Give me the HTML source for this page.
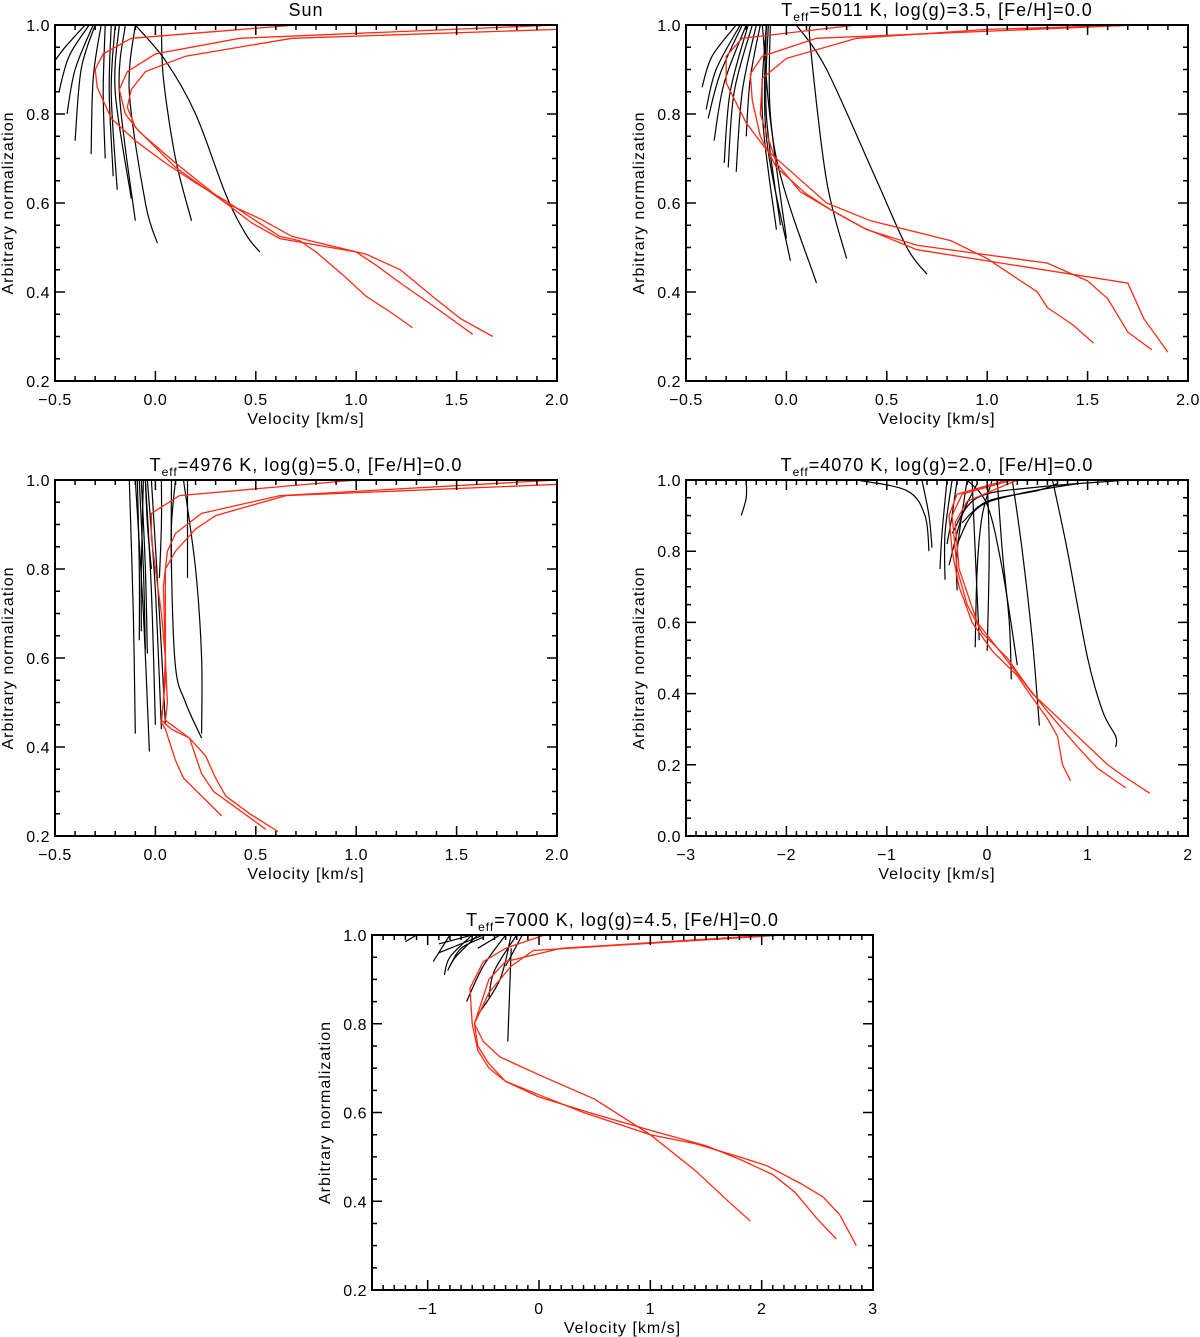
<!DOCTYPE html>
<html><head><meta charset="utf-8">
<style>
html,body{margin:0;padding:0;background:#fff;}
svg{display:block;font-family:"Liberation Sans",sans-serif;}
</style></head>
<body>
<svg id="fig" width="1200" height="1337" viewBox="0 0 1200 1337" xmlns="http://www.w3.org/2000/svg"></svg>
<script>
// ---------- data ----------
const sunRed = [
 [[0.7,1.0],[-0.12,0.97],[-0.26,0.935],[-0.3,0.9],[-0.29,0.86],[-0.22,0.79],[-0.1,0.74],[0.05,0.69],[0.2,0.645],[0.35,0.605],[0.5,0.56],[0.62,0.525],[0.72,0.515],[0.8,0.49],[0.93,0.44],[1.05,0.39],[1.17,0.355],[1.28,0.32]],
 [[2.0,1.0],[0.42,0.97],[0.0,0.935],[-0.14,0.895],[-0.18,0.855],[-0.15,0.8],[-0.08,0.76],[0.1,0.69],[0.35,0.6],[0.48,0.555],[0.62,0.52],[1.0,0.49],[1.1,0.46],[1.22,0.42],[1.38,0.37],[1.58,0.305]],
 [[2.0,0.99],[0.68,0.97],[0.15,0.93],[-0.05,0.895],[-0.12,0.855],[-0.14,0.815],[-0.1,0.77],[0.1,0.68],[0.35,0.6],[0.52,0.565],[0.68,0.525],[1.05,0.485],[1.22,0.45],[1.38,0.39],[1.52,0.34],[1.68,0.30]]
];
const sunBlack = [
 [[-0.35,1.0],[-0.45,0.95],[-0.5,0.92]],
 [[-0.33,1.0],[-0.43,0.93],[-0.48,0.85]],
 [[-0.31,1.0],[-0.4,0.9],[-0.44,0.8]],
 [[-0.3,1.0],[-0.37,0.9],[-0.4,0.74]],
 [[-0.27,1.0],[-0.31,0.88],[-0.32,0.71]],
 [[-0.25,1.0],[-0.26,0.85],[-0.25,0.7]],
 [[-0.22,1.0],[-0.23,0.85],[-0.21,0.66]],
 [[-0.2,1.0],[-0.22,0.85],[-0.19,0.63]],
 [[-0.18,1.0],[-0.2,0.85],[-0.12,0.61]],
 [[-0.15,1.0],[-0.18,0.85],[-0.1,0.56]],
 [[-0.1,1.0],[-0.13,0.85],[-0.05,0.6],[0.01,0.51]],
 [[0.03,1.0],[0.04,0.88],[0.1,0.7],[0.18,0.56]],
 [[-0.1,1.0],[0.05,0.92],[0.2,0.8],[0.35,0.62],[0.45,0.53],[0.52,0.49]]
];
const g35Red = [
 [[0.35,1.0],[-0.22,0.97],[-0.3,0.93],[-0.3,0.87],[-0.2,0.78],[-0.1,0.72],[0.05,0.66],[0.2,0.6],[0.42,0.56],[0.82,0.515],[1.0,0.475],[1.25,0.4],[1.3,0.365],[1.43,0.325],[1.53,0.285]],
 [[1.75,1.0],[0.15,0.97],[-0.12,0.93],[-0.18,0.89],[-0.17,0.83],[-0.13,0.75],[-0.05,0.68],[0.1,0.62],[0.22,0.585],[0.4,0.54],[0.65,0.505],[1.3,0.465],[1.5,0.425],[1.6,0.385],[1.7,0.31],[1.82,0.27]],
 [[1.75,1.0],[1.0,0.99],[0.35,0.97],[0.0,0.925],[-0.12,0.88],[-0.13,0.8],[-0.05,0.69],[0.07,0.625],[0.22,0.585],[0.38,0.545],[0.65,0.495],[1.0,0.47],[1.7,0.42],[1.78,0.34],[1.9,0.265]]
];
const g35Black = [
 [[-0.25,1.0],[-0.37,0.93],[-0.42,0.86]],
 [[-0.23,1.0],[-0.35,0.9],[-0.4,0.81]],
 [[-0.22,1.0],[-0.33,0.89],[-0.39,0.79]],
 [[-0.2,1.0],[-0.31,0.87],[-0.36,0.74]],
 [[-0.19,1.0],[-0.28,0.85],[-0.31,0.69]],
 [[-0.17,1.0],[-0.26,0.85],[-0.29,0.68]],
 [[-0.15,1.0],[-0.22,0.85],[-0.25,0.67]],
 [[-0.13,1.0],[-0.18,0.88],[-0.2,0.75]],
 [[-0.1,1.0],[-0.12,0.8],[-0.05,0.54]],
 [[-0.09,1.0],[-0.1,0.8],[-0.03,0.55]],
 [[-0.08,1.0],[-0.08,0.8],[0.0,0.52]],
 [[-0.1,1.0],[-0.1,0.75],[0.02,0.47]],
 [[-0.12,1.0],[-0.05,0.7],[0.15,0.42]],
 [[0.12,1.0],[0.12,0.95],[0.2,0.65],[0.3,0.475]],
 [[0.05,1.0],[0.2,0.9],[0.45,0.65],[0.6,0.5],[0.7,0.44]]
];
const g50Red = [
 [[1.0,1.0],[0.12,0.965],[-0.02,0.925],[-0.02,0.87],[0.0,0.8],[0.03,0.7],[0.05,0.6],[0.04,0.5],[0.03,0.46],[0.08,0.44],[0.17,0.42],[0.25,0.38],[0.3,0.33],[0.35,0.29],[0.47,0.25],[0.61,0.21]],
 [[2.0,1.0],[0.62,0.965],[0.23,0.925],[0.1,0.88],[0.06,0.84],[0.04,0.76],[0.05,0.6],[0.06,0.5],[0.05,0.46],[0.17,0.42],[0.23,0.34],[0.29,0.3],[0.55,0.215]],
 [[2.0,0.99],[0.65,0.965],[0.3,0.92],[0.2,0.89],[0.1,0.84],[0.05,0.8],[0.05,0.68],[0.05,0.55],[0.03,0.455],[0.05,0.44],[0.1,0.37],[0.14,0.33],[0.33,0.245]]
];
const g50Black = [
 [[-0.13,1.0],[-0.11,0.7],[-0.1,0.43]],
 [[-0.1,1.0],[-0.06,0.7],[-0.03,0.39]],
 [[-0.09,1.0],[-0.08,0.8],[-0.08,0.64]],
 [[-0.08,1.0],[-0.06,0.8],[-0.05,0.62]],
 [[-0.07,1.0],[-0.05,0.8],[-0.04,0.61]],
 [[-0.06,1.0],[-0.07,0.8],[-0.07,0.66]],
 [[-0.05,1.0],[-0.02,0.75],[0.0,0.45]],
 [[-0.04,1.0],[0.0,0.75],[0.03,0.44]],
 [[-0.02,1.0],[0.02,0.7],[0.05,0.45]],
 [[0.03,1.0],[0.03,0.9],[0.02,0.78]],
 [[0.1,1.0],[0.08,0.9],[0.08,0.8]],
 [[0.16,1.0],[0.16,0.9],[0.16,0.78]],
 [[0.08,1.0],[0.08,0.8],[0.1,0.58],[0.15,0.5],[0.23,0.42]],
 [[0.14,1.0],[0.2,0.8],[0.23,0.6],[0.23,0.43]],
 [[-0.05,1.0],[-0.04,0.9],[-0.02,0.8]]
];
const g20Red = [
 [[0.2,1.0],[-0.3,0.96],[-0.38,0.9],[-0.35,0.8],[-0.28,0.7],[-0.15,0.6],[0.05,0.52],[0.3,0.45],[0.42,0.4],[0.6,0.33],[0.7,0.28],[0.75,0.2],[0.83,0.155]],
 [[0.25,1.0],[-0.25,0.96],[-0.35,0.9],[-0.3,0.75],[-0.2,0.65],[-0.05,0.57],[0.2,0.5],[0.4,0.42],[0.6,0.35],[0.9,0.25],[1.1,0.19],[1.38,0.135]],
 [[0.3,1.0],[-0.2,0.94],[-0.32,0.88],[-0.28,0.75],[-0.1,0.6],[0.15,0.51],[0.45,0.4],[0.9,0.28],[1.2,0.2],[1.35,0.17],[1.62,0.12]]
];
const g20Black = [
 [[-2.4,1.0],[-2.4,0.95],[-2.45,0.9]],
 [[-1.3,1.0],[-0.8,0.97],[-0.62,0.9],[-0.58,0.8]],
 [[-0.65,1.0],[-0.58,0.9],[-0.55,0.81]],
 [[-0.4,1.0],[-0.45,0.85],[-0.47,0.75]],
 [[-0.35,1.0],[-0.42,0.85],[-0.42,0.72]],
 [[-0.3,1.0],[-0.35,0.9],[-0.4,0.82]],
 [[-0.2,1.0],[-0.3,0.8],[-0.3,0.69]],
 [[-0.1,0.99],[-0.25,0.9],[-0.38,0.76]],
 [[0.05,1.0],[-0.05,0.9],[-0.1,0.75],[-0.12,0.53]],
 [[-0.15,1.0],[-0.12,0.8],[-0.08,0.55]],
 [[0.0,1.0],[0.02,0.8],[0.0,0.52]],
 [[-0.35,0.85],[-0.1,0.95],[0.5,0.98],[1.4,1.0]],
 [[-0.25,0.88],[0.0,0.94],[0.5,0.97],[0.7,0.99]],
 [[-0.3,0.82],[-0.1,0.92],[0.3,0.96],[0.9,0.99]],
 [[-0.2,1.0],[0.0,0.93],[0.15,0.75],[0.3,0.48]],
 [[0.1,1.0],[0.15,0.8],[0.22,0.6],[0.24,0.44]],
 [[0.25,1.0],[0.35,0.8],[0.45,0.55],[0.52,0.31]],
 [[0.65,1.0],[0.8,0.8],[1.0,0.5],[1.15,0.35],[1.28,0.28],[1.28,0.25]]
];
const g45Red = [
 [[0.05,1.0],[-0.3,0.97],[-0.5,0.94],[-0.62,0.88],[-0.6,0.8],[-0.55,0.74],[-0.45,0.7],[-0.3,0.67],[0.0,0.64],[0.4,0.6],[1.0,0.55],[1.4,0.53],[1.8,0.5],[2.05,0.48],[2.35,0.44],[2.55,0.41],[2.7,0.37],[2.85,0.3]],
 [[2.1,1.0],[0.2,0.97],[-0.3,0.94],[-0.45,0.9],[-0.58,0.8],[-0.55,0.75],[-0.45,0.71],[-0.3,0.67],[0.0,0.635],[0.45,0.6],[1.0,0.56],[1.5,0.525],[1.8,0.495],[2.1,0.46],[2.3,0.42],[2.5,0.36],[2.67,0.315]],
 [[2.2,1.0],[-0.05,0.965],[-0.25,0.93],[-0.45,0.87],[-0.58,0.8],[-0.5,0.76],[-0.35,0.725],[0.0,0.685],[0.5,0.63],[1.0,0.55],[1.4,0.47],[1.7,0.4],[1.9,0.355]]
];
const g45Black = [
 [[-1.2,0.985],[-1.1,1.0]],
 [[-0.8,1.0],[-0.95,0.94]],
 [[-0.6,1.0],[-0.8,0.95],[-0.85,0.91]],
 [[-0.55,1.0],[-0.75,0.95],[-0.82,0.92]],
 [[-0.6,1.0],[-0.9,0.98]],
 [[-0.5,1.0],[-0.9,0.96]],
 [[-0.5,0.995],[-0.7,0.97],[-0.8,0.93]],
 [[-0.3,1.0],[-0.5,0.93],[-0.65,0.85]],
 [[-0.2,1.0],[-0.4,0.92],[-0.45,0.86]],
 [[-0.25,1.0],[-0.35,0.9],[-0.55,0.82]],
 [[-0.25,0.97],[-0.28,0.76]],
 [[-0.15,1.0],[-0.3,0.93]],
 [[-0.35,1.0],[-0.55,0.97]]
];
const xTicksA = ["-0.5","0.0","0.5","1.0","1.5","2.0"];
const xTicksB = ["-3","-2","-1","0","1","2"];
const xTicksC = ["-1","0","1","2","3"];
const yTicksA = ["0.2","0.4","0.6","0.8","1.0"];
const yTicksB = ["0.0","0.2","0.4","0.6","0.8","1.0"];

// ---------- drawing ----------
const NS="http://www.w3.org/2000/svg";
const svg=document.getElementById('fig');
function mk(tag,parent){const e=document.createElementNS(NS,tag);parent.appendChild(e);return e;}
function smoothPath(pts){
  if(pts.length<3) return 'M'+pts.map(p=>p[0].toFixed(1)+','+p[1].toFixed(1)).join('L');
  let d='M'+pts[0][0].toFixed(1)+','+pts[0][1].toFixed(1);
  for(let i=0;i<pts.length-1;i++){
    const p0=pts[Math.max(0,i-1)],p1=pts[i],p2=pts[i+1],p3=pts[Math.min(pts.length-1,i+2)];
    const c1=[p1[0]+(p2[0]-p0[0])/6,p1[1]+(p2[1]-p0[1])/6];
    const c2=[p2[0]-(p3[0]-p1[0])/6,p2[1]-(p3[1]-p1[1])/6];
    d+=`C${c1[0].toFixed(1)},${c1[1].toFixed(1)} ${c2[0].toFixed(1)},${c2[1].toFixed(1)} ${p2[0].toFixed(1)},${p2[1].toFixed(1)}`;
  }
  return d;
}

function panel(cfg){
  const g=mk('g',svg);
  
  
  const sx=v=>cfg.L+(v-cfg.x0)/(cfg.x1-cfg.x0)*(cfg.R-cfg.L);
  const sy=v=>cfg.B-(v-cfg.y0)/(cfg.y1-cfg.y0)*(cfg.B-cfg.T);
  const cp=mk('clipPath',g); cp.setAttribute('id','clip-'+cfg.name);
  const cr=mk('rect',cp); cr.setAttribute('x',cfg.L);cr.setAttribute('y',cfg.T);cr.setAttribute('width',cfg.R-cfg.L);cr.setAttribute('height',cfg.B-cfg.T);
  const sg=mk('g',g); sg.setAttribute('clip-path','url(#clip-'+cfg.name+')');
  
  
  cfg.black.forEach(c=>{
    const p=mk('path',sg);
    
    
    p.setAttribute('d',smoothPath(c.map(q=>[sx(q[0]),sy(q[1])])));
    p.setAttribute('fill','none');p.setAttribute('stroke','#000');p.setAttribute('stroke-width','1.2');
  });
  cfg.red.forEach(c=>{
    const p=mk('polyline',sg);
    
    
    p.setAttribute('points',c.map(q=>sx(q[0]).toFixed(1)+','+sy(q[1]).toFixed(1)).join(' '));
    p.setAttribute('fill','none');p.setAttribute('stroke','#ff2a14');p.setAttribute('stroke-width','1.3');
  });
  const fr=mk('rect',g);
  
  
  fr.setAttribute('x',cfg.L);fr.setAttribute('y',cfg.T);fr.setAttribute('width',cfg.R-cfg.L);fr.setAttribute('height',cfg.B-cfg.T);
  fr.setAttribute('fill','none');fr.setAttribute('stroke','#000');fr.setAttribute('stroke-width','2');
  let d='';
  const nx=Math.round((cfg.x1-cfg.x0)/cfg.xminor);
  for(let i=0;i<=nx;i++){
    const v=cfg.x0+i*cfg.xminor; const x=sx(v);
    const maj=Math.abs(v/cfg.xmajor-Math.round(v/cfg.xmajor))<1e-6;
    const len=maj?10:5;
    d+=`M${x},${cfg.B}v${-len}M${x},${cfg.T}v${len}`;
  }
  const ny=Math.round((cfg.y1-cfg.y0)/cfg.yminor);
  for(let i=0;i<=ny;i++){
    const v=cfg.y0+i*cfg.yminor; const y=sy(v);
    const maj=Math.abs(v/cfg.ymajor-Math.round(v/cfg.ymajor))<1e-6;
    const len=maj?10:5;
    d+=`M${cfg.L},${y}h${len}M${cfg.R},${y}h${-len}`;
  }
  const tk=mk('path',g);
  
  
  tk.setAttribute('d',d);tk.setAttribute('stroke','#000');tk.setAttribute('stroke-width','1.5');tk.setAttribute('fill','none');
  cfg.xlabels.forEach(s=>{
    const t=mk('text',g);
    
    
    t.setAttribute('x',sx(parseFloat(s)));t.setAttribute('y',cfg.B+24);
    t.setAttribute('text-anchor','middle');t.setAttribute('font-size','16');t.setAttribute('letter-spacing','0.5');
    t.textContent=s.replace('-','\u2212');
  });
  cfg.ylabels.forEach(s=>{
    const t=mk('text',g);
    
    
    t.setAttribute('x',cfg.L-5);t.setAttribute('y',sy(parseFloat(s))+6);
    t.setAttribute('text-anchor','end');t.setAttribute('font-size','16');t.setAttribute('letter-spacing','0.5');
    t.textContent=s;
  });
  const xt=mk('text',g);
  
  
  xt.setAttribute('x',(cfg.L+cfg.R)/2);xt.setAttribute('y',cfg.B+43);
  xt.setAttribute('text-anchor','middle');xt.setAttribute('font-size','16');xt.setAttribute('letter-spacing','1');
  xt.textContent='Velocity [km/s]';
  const yt=mk('text',g);
  
  
  const cy=(cfg.T+cfg.B)/2, cx=cfg.L-42;
  yt.setAttribute('transform',`translate(${cx},${cy}) rotate(-90)`);
  yt.setAttribute('text-anchor','middle');yt.setAttribute('font-size','16');yt.setAttribute('letter-spacing','1');
  yt.textContent='Arbitrary normalization';
  const tt=mk('text',g);
  
  
  tt.setAttribute('x',(cfg.L+cfg.R)/2);tt.setAttribute('y',cfg.T-9);
  tt.setAttribute('text-anchor','middle');tt.setAttribute('font-size','18');tt.setAttribute('letter-spacing','1');
  if(cfg.teff){
    tt.innerHTML='T<tspan font-size="12" dy="5">eff</tspan><tspan dy="-5">='+cfg.teff+'</tspan>';
  } else tt.textContent=cfg.title;
}

panel({name:'panel-sun',L:55,R:557,T:25,B:381,x0:-0.5,x1:2.0,xmajor:0.5,xminor:0.1,y0:0.2,y1:1.0,ymajor:0.2,yminor:0.05,
  xlabels:xTicksA,ylabels:yTicksA,red:sunRed,black:sunBlack,title:'Sun'});
panel({name:'panel-5011',L:686,R:1188,T:25,B:381,x0:-0.5,x1:2.0,xmajor:0.5,xminor:0.1,y0:0.2,y1:1.0,ymajor:0.2,yminor:0.05,
  xlabels:xTicksA,ylabels:yTicksA,red:g35Red,black:g35Black,teff:'5011 K, log(g)=3.5, [Fe/H]=0.0'});
panel({name:'panel-4976',L:55,R:557,T:480,B:836,x0:-0.5,x1:2.0,xmajor:0.5,xminor:0.1,y0:0.2,y1:1.0,ymajor:0.2,yminor:0.05,
  xlabels:xTicksA,ylabels:yTicksA,red:g50Red,black:g50Black,teff:'4976 K, log(g)=5.0, [Fe/H]=0.0'});
panel({name:'panel-4070',L:686,R:1188,T:480,B:836,x0:-3,x1:2,xmajor:1,xminor:0.1,y0:0.0,y1:1.0,ymajor:0.2,yminor:0.05,
  xlabels:xTicksB,ylabels:yTicksB,red:g20Red,black:g20Black,teff:'4070 K, log(g)=2.0, [Fe/H]=0.0'});
panel({name:'panel-7000',L:372,R:873,T:935,B:1290,x0:-1.5,x1:3,xmajor:1,xminor:0.1,y0:0.2,y1:1.0,ymajor:0.2,yminor:0.05,
  xlabels:xTicksC,ylabels:yTicksA,red:g45Red,black:g45Black,teff:'7000 K, log(g)=4.5, [Fe/H]=0.0'});
</script>
</body></html>
